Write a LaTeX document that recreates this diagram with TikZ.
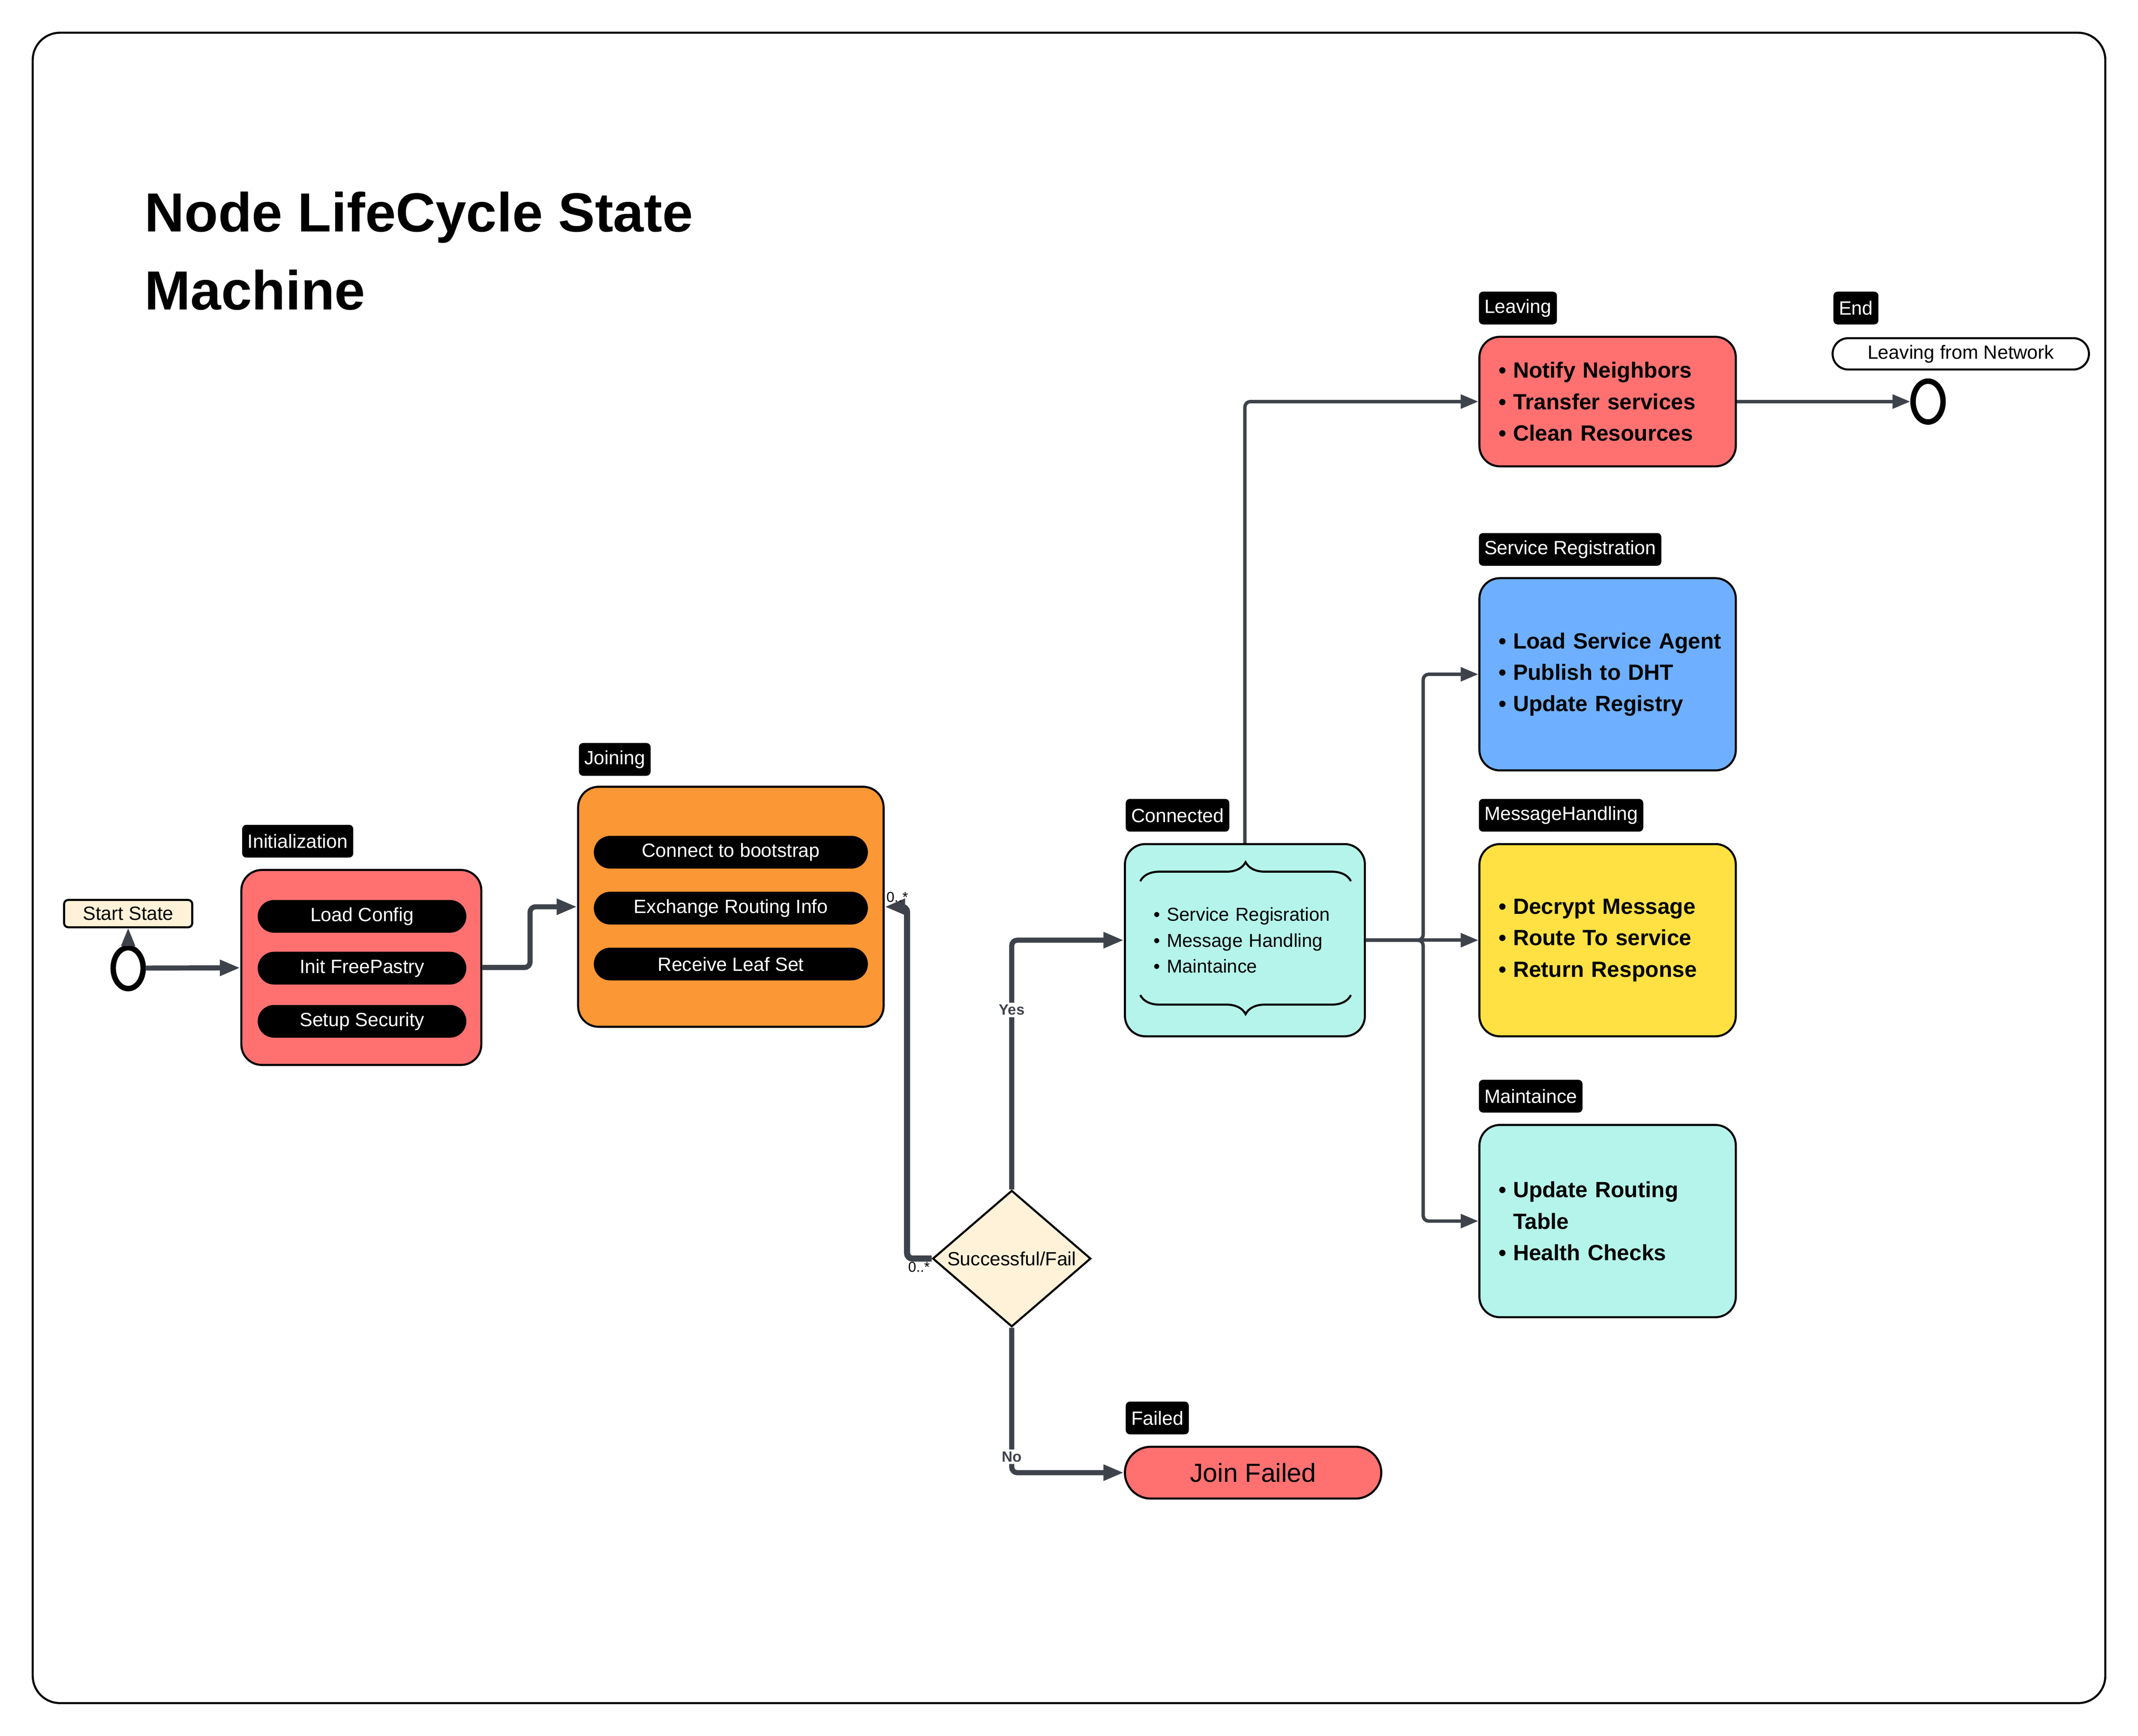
\documentclass[tikz,border=0pt]{standalone}
\usepackage{fontspec}
\setmainfont{Liberation Sans}
\usetikzlibrary{positioning,shapes.geometric,arrows.meta,decorations.pathreplacing}

\definecolor{redbox}{HTML}{FF7171}
\definecolor{orangebox}{HTML}{FC9736}
\definecolor{cyanbox}{HTML}{B5F4EA}
\definecolor{bluebox}{HTML}{6EB0FF}
\definecolor{yellowbox}{HTML}{FFE143}
\definecolor{creambox}{HTML}{FFF2D8}
\definecolor{linkc}{HTML}{3E434B}

\newcommand{\litem}[1]{\mbox{\textbullet\hspace{0.1cm}#1}}

\begin{document}
\begin{tikzpicture}
    \tikzstyle{tag}=[fill=black,text=white,rounded corners=0.06cm,inner xsep=0.08cm,inner ysep=0cm,minimum height=0.48cm,font=\fontsize{8}{9.6}\selectfont];
    \tikzstyle{state}=[draw,line width=0.03cm,rounded corners=0.3cm];
    \tikzstyle{pill}=[fill=black,text=white,rounded corners=0.24cm,minimum width=3.06cm,minimum height=0.48cm,inner sep=0cm,font=\fontsize{8}{9.6}\selectfont];
    \tikzstyle{list}=[state,minimum width=3.76cm,minimum height=2.82cm,text width=3.2cm,inner xsep=0.28cm,align=left,font=\fontsize{9.2}{13.1}\selectfont\bfseries];
    \tikzstyle{ring}=[draw,ellipse,line width=0.08cm,minimum width=0.44cm,minimum height=0.6cm,inner sep=0cm];
    \tikzstyle{trans}=[draw=linkc,line width=0.05cm,rounded corners=0.08cm,-{Triangle[length=0.26cm,width=0.2cm]}];
    \tikzstyle{heavy}=[trans,line width=0.075cm,-{Triangle[length=0.3cm,width=0.22cm]}];
    \tikzstyle{mult}=[inner sep=0.02cm,font=\fontsize{6}{7}\selectfont];
    \tikzstyle{cond}=[fill=white,inner sep=0.03cm,text=linkc,font=\fontsize{6.2}{7}\selectfont\bfseries];
    \tikzstyle{brc}=[draw,line width=0.03cm,decorate,decoration={brace,amplitude=0.28cm}];

    \useasboundingbox (0,0) rectangle (31.36,-25.46);
    \draw[line width=0.03cm,rounded corners=0.4cm] (0.48,-0.48) rectangle (30.88,-24.98);

    \node (title) [anchor=base west,align=left,font=\fontsize{23}{32.4}\selectfont\bfseries] at (2.00,-4.54) {Node LifeCycle State\\Machine};

    % start and initialization
    \node (start) [ring] at (1.88,-14.20) {};
    \node (starttag) [tag,fill=creambox,draw,text=black,line width=0.03cm,minimum width=1.88cm,minimum height=0.40cm] at (1.88,-13.40) {Start State};

    \node (init) [state,fill=redbox,minimum width=3.52cm,minimum height=2.86cm] at (5.30,-14.19) {};
    \node (inittag) [tag,above right=0.16cm and 0.02cm of init.north west] {Initialization};
     \node (load) [pill] at (5.31,-13.44) {Load Config};
     \node (pastry) [pill] at (5.31,-14.20) {Init FreePastry};
     \node (secure) [pill] at (5.31,-14.98) {Setup Security};

    % joining
    \node (join) [state,fill=orangebox,minimum width=4.48cm,minimum height=3.52cm] at (10.72,-13.30) {};
    \node (jointag) [tag,above right=0.14cm and 0.02cm of join.north west] {Joining};
     \node (boot) [pill,minimum width=4.02cm] at (10.72,-12.50) {Connect to bootstrap};
     \node (route) [pill,minimum width=4.02cm] at (10.72,-13.32) {Exchange Routing Info};
     \node (leaf) [pill,minimum width=4.02cm] at (10.72,-14.14) {Receive Leaf Set};

    \node (check) [diamond,draw,fill=creambox,line width=0.03cm,aspect=1.16,inner sep=0cm,minimum width=2.32cm,minimum height=2cm,font=\fontsize{8}{9.6}\selectfont] at (14.84,-18.46) {Successful/Fail};

    % connected and failed
    \node (conn) [state,fill=cyanbox,minimum width=3.52cm,minimum height=2.82cm,text width=2.68cm,inner xsep=0.42cm,align=left,font=\fontsize{7.8}{10.8}\selectfont] at (18.26,-13.79) {\litem{Service Regisration}\\\litem{Message Handling}\\\litem{Maintaince}};
    \node (conntag) [tag,above right=0.16cm and 0.02cm of conn.north west] {Connected};
    \draw[brc] ([shift={(0.24,-0.56)}]conn.north west) -- ([shift={(-0.22,-0.56)}]conn.north east);
    \draw[brc] ([shift={(-0.22,0.62)}]conn.south east) -- ([shift={(0.24,0.62)}]conn.south west);

    \node (fail) [state,fill=redbox,rounded corners=0.38cm,minimum width=3.76cm,minimum height=0.76cm,font=\fontsize{10.9}{13}\selectfont] at (18.38,-21.60) {Join Failed};
    \node (failtag) [tag,above right=0.16cm and 0.02cm of fail.north west] {Failed};

    % states after connecting
    \node (leave) [list,fill=redbox,minimum height=1.90cm] at (23.58,-5.89) {\litem{Notify Neighbors}\\\litem{Transfer services}\\\litem{Clean Resources}};
    \node (leavetag) [tag,above right=0.16cm and 0cm of leave.north west] {Leaving};

    \node (endc) [ring] at (28.28,-5.89) {};
    \node (endnote) [state,fill=white,rounded corners=0.23cm,minimum width=3.76cm,minimum height=0.46cm,inner sep=0cm,font=\fontsize{8}{9.6}\selectfont] at (28.76,-5.19) {Leaving from Network};
    \node (endtag) [tag,above right=0.18cm and 0.02cm of endnote.north west] {End};

    \node (serv) [list,fill=bluebox] at (23.58,-9.89) {\litem{Load Service Agent}\\\litem{Publish to DHT}\\\litem{Update Registry}};
    \node (servtag) [tag,above right=0.16cm and 0cm of serv.north west] {Service Registration};

    \node (msg) [list,fill=yellowbox] at (23.58,-13.79) {\litem{Decrypt Message}\\\litem{Route To service}\\\litem{Return Response}};
    \node (msgtag) [tag,above right=0.16cm and 0cm of msg.north west] {MessageHandling};

    \node (maint) [list,fill=cyanbox] at (23.58,-17.91) {\litem{Update Routing}\\\phantom{\textbullet\hspace{0.1cm}}Table\\\litem{Health Checks}};
    \node (mainttag) [tag,above right=0.16cm and 0cm of maint.north west] {Maintaince};

    % transitions
    \draw[trans,line width=0.04cm] (start) -- (starttag);
    \draw[heavy] (start) -- (init);
    \draw[heavy] (init.east) -- ++(0.7,0) |- (join.west);
    \draw[heavy] (check.north) |- node[cond,pos=0.36] {Yes} (conn.west);
    \draw[heavy] (check.south) |- node[cond,pos=0.445] {No} (fail.west);
    \draw[heavy,line width=0.09cm] (check.west) -- ++(-0.36,0) |- (join.east);
    \node (m1) [mult,above right=0.04cm and 0cm of join.east] {0..*};
    \node (m2) [mult,below left=0.02cm and 0cm of check.west] {0..*};

    \draw[trans] (conn.north) |- (leave.west);
    \draw[trans] (leave) -- (endc);
    \draw[trans] (conn.east) -- ++(0.84,0) |- (serv.west);
    \draw[trans] (conn) -- (msg);
    \draw[trans] (conn.east) -- ++(0.84,0) |- (maint.west);
\end{tikzpicture}
\end{document}
